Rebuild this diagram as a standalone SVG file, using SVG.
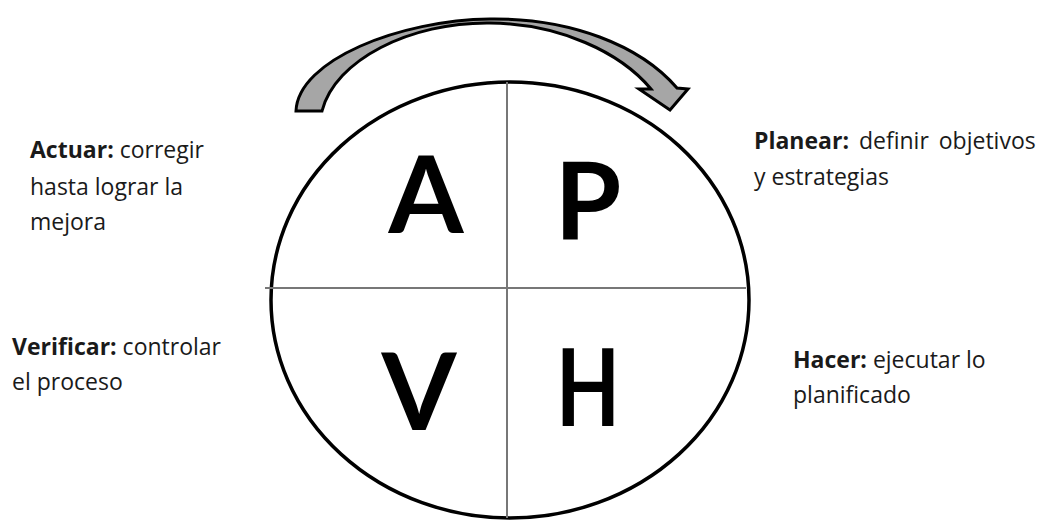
<svg xmlns="http://www.w3.org/2000/svg" width="1042" height="520" viewBox="0 0 1042 520">
  <style>
    .lbl { font-family: "Open Sans", "Noto Sans", "Liberation Sans", sans-serif; font-size: 23px; fill: #1a1a1a; }
    .lbl .b { font-weight: bold; }
    .big { font-family: Lato, "Open Sans", "Liberation Sans", sans-serif; font-weight: bold; font-size: 108px; fill: #000; text-anchor: middle; }
    .div { stroke: #777; stroke-width: 2; fill: none; }
  </style>
  <rect width="1042" height="520" fill="#fff"/>
  <g id="cycle">
    <ellipse cx="510" cy="300" rx="239" ry="218" fill="none" stroke="#000" stroke-width="3.5"/>
  </g>
  <g id="connectors">
    <line class="div" x1="265" y1="288" x2="746" y2="288"/>
    <line class="div" x1="507" y1="82" x2="507" y2="518"/>
    <path id="cycle-arrow" d="M296,111 C298,60 400,20 490,19 C570,18 640,45 677,88 L688,89 L670,110 L639,89 L651,89 C620,52 560,24 490,23 C410,22 335,60 322,111 Z" fill="#a6a6a6" stroke="#000" stroke-width="3" stroke-linejoin="miter"/>
  </g>
  <g id="node-A"><text class="big" x="426" y="233">A</text></g>
  <g id="node-P"><text class="big" x="588" y="239">P</text></g>
  <g id="node-V"><text class="big" x="419" y="430">V</text></g>
  <g id="node-H"><text class="big" x="588" y="426" textLength="64" lengthAdjust="spacingAndGlyphs">H</text></g>
  <g id="label-actuar">
    <text class="lbl" x="30" y="158"><tspan class="b">Actuar:</tspan> corregir</text>
    <text class="lbl" x="30" y="195">hasta lograr la</text>
    <text class="lbl" x="30" y="230">mejora</text>
  </g>
  <g id="label-planear">
    <text class="lbl" x="754" y="149" word-spacing="4"><tspan class="b">Planear:</tspan> definir objetivos</text>
    <text class="lbl" x="754" y="185">y estrategias</text>
  </g>
  <g id="label-verificar">
    <text class="lbl" x="12" y="355"><tspan class="b">Verificar:</tspan> controlar</text>
    <text class="lbl" x="12" y="390">el proceso</text>
  </g>
  <g id="label-hacer">
    <text class="lbl" x="793" y="368"><tspan class="b">Hacer:</tspan> ejecutar lo</text>
    <text class="lbl" x="793" y="403">planificado</text>
  </g>
</svg>
